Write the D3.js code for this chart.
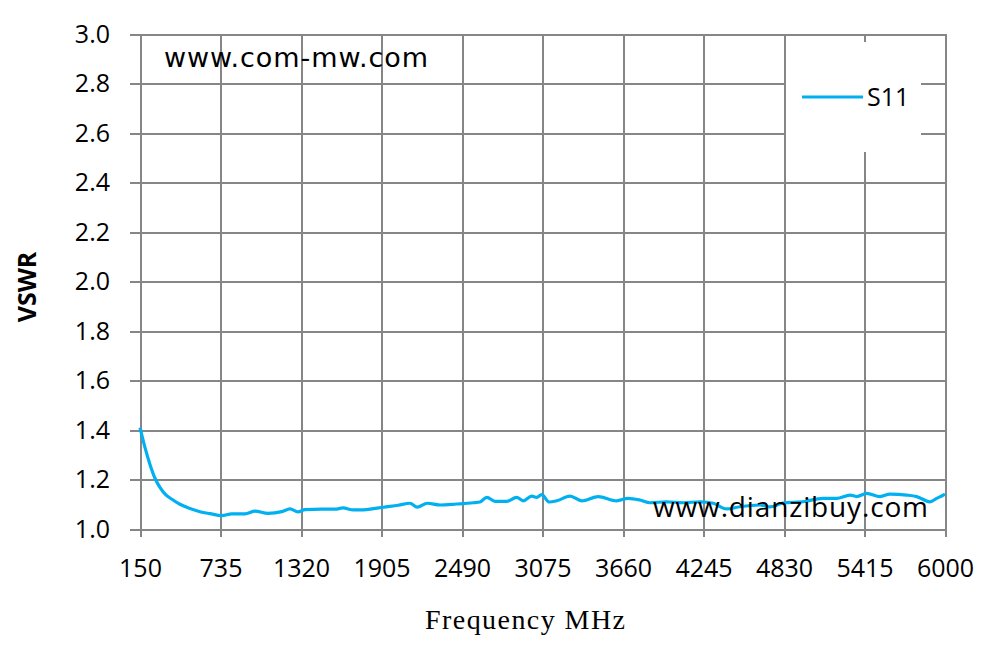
<!DOCTYPE html>
<html lang="en">
<head>
  <meta charset="UTF-8" />
  <title>VSWR S11</title>
  <script src="https://d3js.org/d3.v7.min.js"></script>
  <style>
    body { margin: 0; background: #fff; }
    svg { display: block; }
    .grid line { stroke: #868686; stroke-width: 2px; shape-rendering: crispEdges; }
    .grid path { display: none; }
    .tick text { font-family: "Open Sans", sans-serif; font-size: 25px; fill: #000; }
  </style>
</head>
<body>
  <svg width="997" height="652"></svg>
  <script>
    // measured S11 trace, frequency in MHz
    const freq = [150, 186, 223, 259, 295, 331, 382, 440, 513, 586, 659, 744, 816, 913, 986, 1080, 1180, 1240, 1298, 1349, 1470,
      1567, 1625, 1700, 1773, 1845, 1918, 2027, 2112, 2165, 2238, 2330, 2451, 2572, 2621, 2670, 2730, 2815, 2887, 2935, 2996,
      3033, 3069, 3124, 3178, 3275, 3360, 3480, 3614, 3698, 3783, 3856, 3977, 4098, 4219, 4316, 4413, 4510, 4655, 4728, 4823,
      4968, 5113, 5213, 5310, 5358, 5431, 5528, 5600, 5722, 5794, 5891, 5940, 5988, 6000];
    const vswr = [1.41, 1.33, 1.26, 1.205, 1.168, 1.142, 1.12, 1.10, 1.083, 1.07, 1.062, 1.054, 1.061, 1.061, 1.072, 1.063, 1.070, 1.081, 1.069, 1.078, 1.080,
      1.080, 1.085, 1.077, 1.077, 1.082, 1.088, 1.096, 1.104, 1.088, 1.104, 1.097, 1.101, 1.106, 1.109, 1.128, 1.112, 1.112, 1.128, 1.114, 1.133,
      1.128, 1.139, 1.109, 1.114, 1.133, 1.114, 1.131, 1.114, 1.124, 1.117, 1.106, 1.110, 1.106, 1.110, 1.104, 1.081, 1.090, 1.097, 1.089, 1.105,
      1.110, 1.124, 1.124, 1.137, 1.131, 1.144, 1.131, 1.141, 1.137, 1.131, 1.110, 1.124, 1.137, 1.141];

    const xTicks = [150, 735, 1320, 1905, 2490, 3075, 3660, 4245, 4830, 5415, 6000];
    const yTicks = [1.0, 1.2, 1.4, 1.6, 1.8, 2.0, 2.2, 2.4, 2.6, 2.8, 3.0];

    const plotL = 140, plotR = 945, plotT = 34, plotB = 529;
    const svg = d3.select("svg");

    const x = d3.scaleLinear().domain([150, 6000]).range([plotL, plotR]);
    const y = d3.scaleLinear().domain([1, 3]).range([plotB, plotT]);

    // vertical grid + outward ticks + labels
    svg.append("g")
      .attr("class", "grid")
      .attr("transform", `translate(0,${plotB + 8})`)
      .call(d3.axisBottom(x).tickValues(xTicks).tickFormat(d3.format("d"))
        .tickSize(-(plotB + 8 - plotT)).tickPadding(22));

    // horizontal grid + outward ticks + labels
    svg.append("g")
      .attr("class", "grid")
      .attr("transform", `translate(${plotL - 10},0)`)
      .call(d3.axisLeft(y).tickValues(yTicks).tickFormat(d3.format(".1f"))
        .tickSize(-(plotR - plotL + 10)).tickPadding(20));

    // watermark top-left
    svg.append("text")
      .attr("x", 164).attr("y", 67)
      .attr("textLength", 264)
      .style("font-family", "DejaVu Sans, sans-serif")
      .style("font-size", "27px")
      .text("www.com-mw.com");

    // legend box
    svg.append("rect")
      .attr("x", 786).attr("y", 42)
      .attr("width", 135).attr("height", 110)
      .attr("fill", "#fff");
    svg.append("line")
      .attr("x1", 802).attr("x2", 863)
      .attr("y1", 97).attr("y2", 97)
      .attr("stroke", "#00B0F0").attr("stroke-width", 3);
    svg.append("text")
      .attr("x", 867).attr("y", 106)
      .style("font-family", "Open Sans, sans-serif")
      .style("font-size", "25px")
      .text("S11");

    // the trace
    const line = d3.line()
      .x((d, i) => x(freq[i]))
      .y(d => y(d))
      .curve(d3.curveMonotoneX);

    svg.append("path")
      .datum(vswr)
      .attr("fill", "none")
      .attr("stroke", "#00B0F0")
      .attr("stroke-width", 3.2)
      .attr("stroke-linejoin", "round")
      .attr("d", line);

    // watermark bottom-right, drawn over the trace
    svg.append("text")
      .attr("x", 653).attr("y", 517)
      .attr("textLength", 275)
      .style("font-family", "Open Sans, sans-serif")
      .style("font-size", "28px")
      .text("www.dianzibuy.com");

    // axis titles
    svg.append("text")
      .attr("transform", "translate(36,287) rotate(-90)")
      .attr("text-anchor", "middle")
      .style("font-family", "Open Sans, sans-serif")
      .style("font-size", "25px")
      .style("font-weight", "bold")
      .text("VSWR");

    svg.append("text")
      .attr("x", 425).attr("y", 629)
      .attr("textLength", 200)
      .style("font-family", "Liberation Serif, serif")
      .style("font-size", "28px")
      .text("Frequency MHz");
  </script>
</body>
</html>
